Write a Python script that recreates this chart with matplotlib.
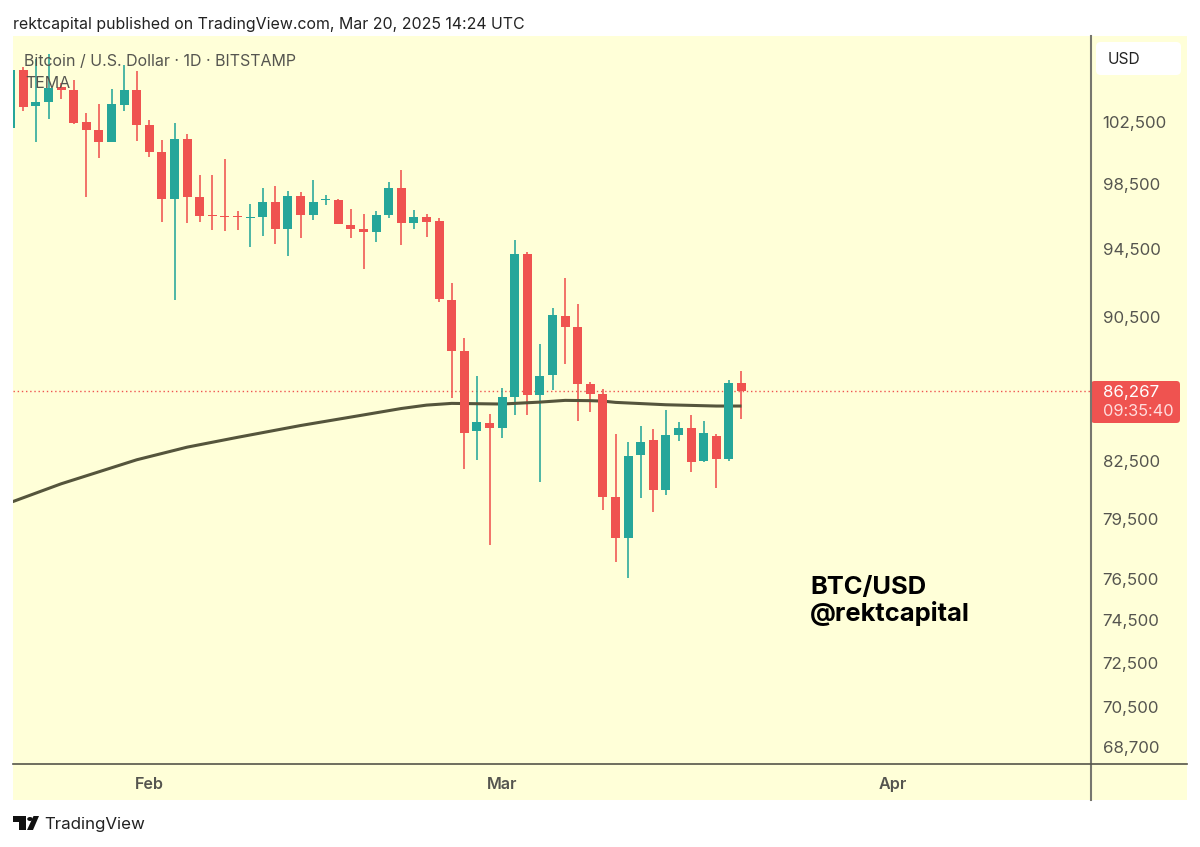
import matplotlib
matplotlib.use("Agg")
import matplotlib.pyplot as plt
import matplotlib.dates as mdates
from matplotlib.patches import FancyBboxPatch, Polygon, Rectangle
import numpy as np
import pandas as pd

W, H = 1200, 847

dates = pd.date_range("2025-01-21", "2025-03-20")

opens = [102110, 106000, 103560, 103840, 104790, 104610, 102480, 101980, 101210, 103640,
         104610, 102290, 100560, 97580, 101380, 97700, 96570, 96530, 96530, 96370,
         96470, 97370, 95690, 97780, 96550, 97500, 97500, 95980, 95690, 95530,
         96550, 98250, 96060, 96470, 96180, 91460, 88520, 84080, 84545, 84240,
         85940, 94210, 86050, 87180, 90520, 89870, 86670, 86100, 80650, 78550,
         82840, 83630, 81000, 83900, 84290, 82500, 83860, 82610, 86750]
highs = [106000, 106200, 106720, 107050, 105070, 105270, 103090, 103690, 104680, 106310,
         105930, 102630, 101340, 102450, 101710, 99060, 99100, 100090, 96820, 97250,
         98240, 98380, 98050, 98010, 98740, 97840, 97600, 96940, 96660, 96820,
         98650, 99400, 96900, 96610, 96400, 92440, 89240, 87130, 85030, 86440,
         95070, 94340, 88900, 90970, 92740, 91240, 86780, 86380, 83950, 83520,
         84385, 84220, 85245, 84600, 84980, 84670, 83950, 86900, 87410]
lows = [102110, 103250, 101170, 102680, 104040, 102350, 97700, 100160, 101210, 103250,
        101230, 100200, 96120, 91480, 96080, 96120, 95630, 95590, 95630, 94640,
        95260, 94810, 94050, 95180, 96240, 97170, 96000, 95180, 93310, 94930,
        96370, 94750, 95730, 95240, 91320, 85910, 82090, 82550, 78200, 83740,
        84980, 84990, 81410, 86320, 87810, 84670, 85150, 79970, 77360, 76560,
        80590, 79860, 80740, 83590, 81930, 82450, 81100, 82520, 84760]
closes = [106000, 103510, 103840, 104740, 104610, 102450, 101980, 101210, 103670, 104610,
          102330, 100560, 97580, 101380, 97700, 96510, 96490, 96470, 96470, 96450,
          97370, 95690, 97780, 96550, 97410, 97560, 96040, 95690, 95530, 96550,
          98240, 96060, 96470, 96160, 91500, 88520, 84010, 84600, 84240, 85940,
          94210, 86050, 87140, 90560, 89870, 86670, 86100, 80650, 78520, 82770,
          83540, 81000, 83900, 84290, 82450, 84010, 82630, 86750, 86267]

tema_dates = pd.to_datetime(["2025-01-21", "2025-01-25", "2025-01-31", "2025-02-04", "2025-02-08",
                             "2025-02-13", "2025-02-18", "2025-02-21", "2025-02-23", "2025-02-25",
                             "2025-03-01", "2025-03-04", "2025-03-06", "2025-03-08", "2025-03-09",
                             "2025-03-10", "2025-03-14", "2025-03-18", "2025-03-20"])
tema_vals = [80350, 81310, 82570, 83240, 83765, 84400, 84975, 85325, 85510, 85605,
             85570, 85675, 85770, 85755, 85730, 85660, 85530, 85460, 85460]

price_ticks = [102500, 98500, 94500, 90500, 82500, 79500, 76500, 74500, 72500, 70500, 68700]
last_price = 86267
countdown = "09:35:40"
month_ticks = ["2025-02-01", "2025-03-01", "2025-04-01"]
month_labels = ["Feb", "Mar", "Apr"]

UP = "#26a69a"
DOWN = "#ef5350"
BG = "#ffffd8"
GREY = "#55554f"

plt.rcParams["font.family"] = ["Inter", "DejaVu Sans"]


def px(x, y):
    # pixel position (from top left) to figure fraction
    return x / W, 1 - y / H


fig = plt.figure(figsize=(W / 100, H / 100), dpi=100, facecolor="white")

# yellow sheet behind the plot and both scales
fig.add_artist(Rectangle(px(13, 800), (1187 - 13) / W, (800 - 36) / H, transform=fig.transFigure,
                         facecolor=BG, edgecolor="none", zorder=-5))

ax = fig.add_axes([13 / W, 1 - 764 / H, (1090 - 13) / W, (764 - 36) / H])
ax.set_facecolor("none")
ax.set_yscale("log")

x = mdates.date2num(dates)
opens = np.array(opens)
closes = np.array(closes)
colors = [UP if c >= o else DOWN for o, c in zip(opens, closes)]

ax.vlines(x, lows, highs, colors=colors, linewidth=1.15, zorder=2)
ax.bar(x, np.abs(closes - opens), bottom=np.minimum(opens, closes), width=0.71,
       color=colors, linewidth=0, zorder=3)

ax.plot(mdates.date2num(tema_dates), tema_vals, color="#55553c", linewidth=2.2, zorder=2.5,
        solid_capstyle="butt")
ax.axhline(last_price, color=DOWN, linewidth=1.0, linestyle=(0, (1, 2)), zorder=1)

start = mdates.date2num(pd.Timestamp("2025-01-21"))
ax.set_xlim(start + 0.18, start + 85.66)
ax.set_ylim(67960, 108300)

ax.yaxis.tick_right()
ax.set_yticks(price_ticks)
ax.set_yticklabels([f"{p:,}" for p in price_ticks])
ax.yaxis.set_minor_locator(matplotlib.ticker.NullLocator())
ax.tick_params(axis="y", length=0, pad=9, labelsize=12.2, labelcolor=GREY)
ax.set_xticks(mdates.date2num(pd.to_datetime(month_ticks)))
ax.set_xticklabels(month_labels, fontweight="semibold")
ax.tick_params(axis="x", length=0, pad=9, labelsize=11.6, labelcolor=GREY)

for side in ["top", "left", "right", "bottom"]:
    ax.spines[side].set_visible(False)

# scale separators run on past the plot area
fig.add_artist(plt.Line2D([1091 / W, 1091 / W], [1 - 800 / H, 1 - 36 / H], color="#77776f",
                          linewidth=1.5, transform=fig.transFigure))
fig.add_artist(plt.Line2D([13 / W, 1187 / W], [1 - 764 / H, 1 - 764 / H], color="#55554a",
                          linewidth=1.2, transform=fig.transFigure))

# header and watermark texts
fig.text(*px(13, 25), "rektcapital published on TradingView.com, Mar 20, 2025 14:24 UTC",
         fontsize=11.43, color="#222222", va="center", ha="left")
fig.text(*px(24, 61), "Bitcoin / U.S. Dollar · 1D · BITSTAMP", fontsize=11.5, color=GREY,
         va="center", ha="left", zorder=6)
fig.text(*px(25, 84), "TEMA", fontsize=11.5, color=GREY, va="center", ha="left", zorder=6)
fig.text(*px(810, 587), "BTC/USD", fontsize=18.4, fontweight="bold", color="black", va="center", ha="left")
fig.text(*px(810, 614), "@rektcapital", fontsize=18.4, fontweight="bold", color="black", va="center", ha="left")

# USD box
fig.add_artist(FancyBboxPatch(px(1096, 75), 85 / W, 33 / H, boxstyle="round,pad=0,rounding_size=0.004",
                              transform=fig.transFigure, facecolor="white", edgecolor="none",
                              mutation_aspect=W / H))
fig.text(*px(1108, 59), "USD", fontsize=11.2, color="#222222", va="center", ha="left")

# last price tag
fig.add_artist(FancyBboxPatch(px(1091, 423), 89 / W, 42 / H, boxstyle="round,pad=0,rounding_size=0.003",
                              transform=fig.transFigure, facecolor=DOWN, edgecolor="none",
                              mutation_aspect=W / H))
fig.text(*px(1103, 392), f"{last_price:,}", fontsize=12.2, color="white", va="center", ha="left")
fig.text(*px(1103, 411), countdown, fontsize=11.8, color="#ffdcdc", va="center", ha="left")

# TradingView logo and name
logo = [
    [(13, 816), (26, 816), (26, 830), (19, 830), (19, 822), (13, 822)],
    [(33.5, 816), (39, 816), (33, 830), (27, 830)],
]
for shape in logo:
    fig.add_artist(Polygon([px(a, b) for a, b in shape], closed=True, transform=fig.transFigure,
                           facecolor="#111111", edgecolor="none"))
fig.add_artist(plt.Circle(px(30, 819), 2.8 / W, transform=fig.transFigure, facecolor="#111111",
                          edgecolor="none"))
fig.text(*px(44, 824), "TradingView", fontsize=12.2, color="#222222", va="center", ha="left")

fig.savefig("out.png", dpi=100, facecolor="white")
